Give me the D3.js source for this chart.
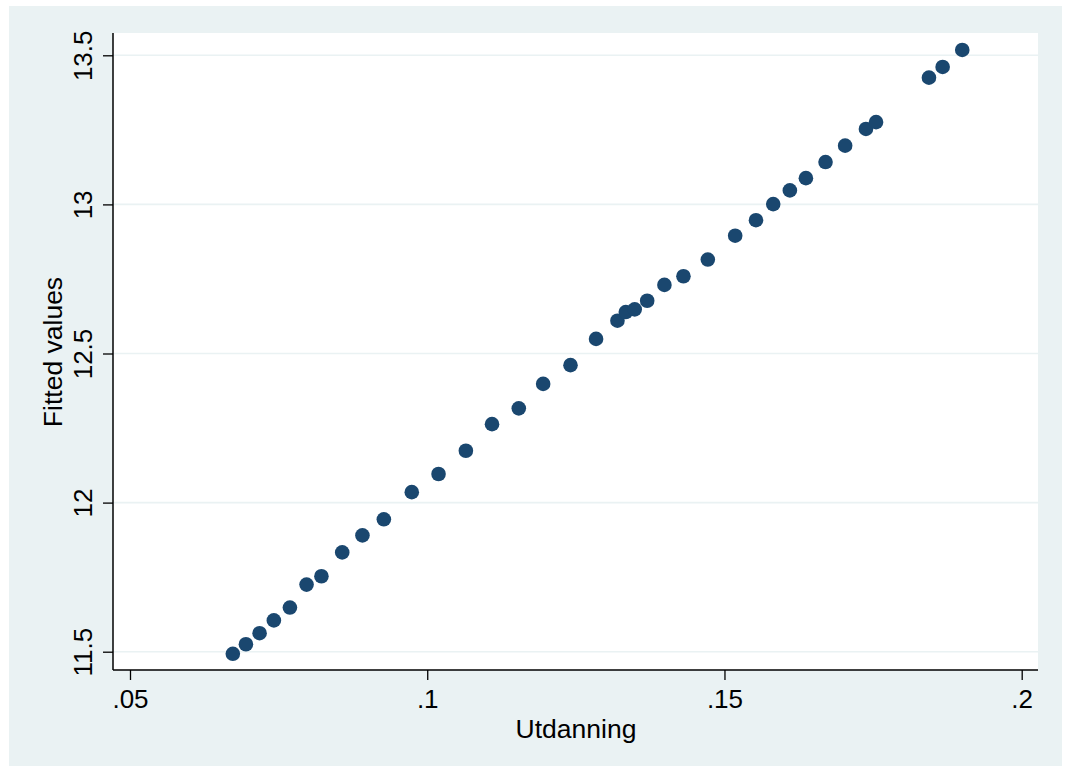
<!DOCTYPE html>
<html>
<head>
<meta charset="utf-8">
<script src="https://cdn.jsdelivr.net/npm/d3@7"></script>
<style>
  html, body { margin: 0; padding: 0; background: #ffffff; }
  svg { display: block; }
  text { font-family: "Liberation Sans", Arial, Helvetica, sans-serif; fill: #000; }
</style>
</head>
<body>
<script>
// Education share (x) against fitted values (y)
const utdanning = [
  0.0673, 0.0695, 0.0718, 0.0742, 0.0769, 0.0797, 0.0822, 0.0857, 0.0891, 0.0927,
  0.0974, 0.1019, 0.1065, 0.1109, 0.1154, 0.1195, 0.1241, 0.1284, 0.1320, 0.1334,
  0.1349, 0.1370, 0.1399, 0.1431, 0.1472, 0.1518, 0.1553, 0.1582, 0.1610, 0.1637,
  0.1670, 0.1703, 0.1738, 0.1755, 0.1844, 0.1867, 0.1900
];
const fitted = [
  11.493, 11.525, 11.562, 11.605, 11.648, 11.725, 11.753, 11.833, 11.890, 11.944,
  12.035, 12.096, 12.174, 12.263, 12.316, 12.398, 12.461, 12.549, 12.610, 12.639,
  12.648, 12.677, 12.730, 12.759, 12.815, 12.895, 12.947, 13.001, 13.047, 13.088,
  13.142, 13.197, 13.253, 13.276, 13.425, 13.461, 13.518
];
const xTicks = [0.05, 0.1, 0.15, 0.2];
const xTickLabels = [".05", ".1", ".15", ".2"];
const yTicks = [11.5, 12, 12.5, 13, 13.5];
const yTickLabels = ["11.5", "12", "12.5", "13", "13.5"];
const xTitle = "Utdanning";
const yTitle = "Fitted values";

const W = 1066, H = 769;
const plot = { left: 113, top: 33, right: 1038, bottom: 670 };

const svg = d3.select("body").append("svg").attr("width", W).attr("height", H);

// outer graph region
svg.append("rect")
  .attr("x", 9).attr("y", 6).attr("width", 1053).attr("height", 760)
  .attr("fill", "#eaf2f3");

// inner plot region
svg.append("rect")
  .attr("x", plot.left).attr("y", plot.top)
  .attr("width", plot.right - plot.left).attr("height", plot.bottom - plot.top)
  .attr("fill", "#ffffff");

const x = d3.scaleLinear().domain([0.05, 0.2]).range([130, 1021.7]);
const y = d3.scaleLinear().domain([11.5, 13.5]).range([651.7, 55.3]);

// horizontal grid lines
svg.append("g").selectAll("line").data(yTicks).join("line")
  .attr("x1", plot.left).attr("x2", plot.right)
  .attr("y1", d => y(d)).attr("y2", d => y(d))
  .attr("stroke", "#eaf2f3").attr("stroke-width", 1.6);

// x axis
const xAxis = d3.axisBottom(x).tickValues(xTicks)
  .tickFormat((d, i) => xTickLabels[i]).tickSize(10).tickSizeOuter(0);
const gx = svg.append("g").attr("transform", `translate(0,${plot.bottom})`).call(xAxis);
gx.select(".domain").remove();
gx.selectAll(".tick line").attr("stroke", "#000").attr("stroke-width", 1.3);
gx.selectAll(".tick text")
  .attr("y", 0).attr("dy", 0)
  .attr("transform", "translate(0,38)")
  .style("font-size", "26px")
  .style("font-family", "'Liberation Sans', Arial, sans-serif")
  .attr("fill", "#000");

// y axis
const yAxis = d3.axisLeft(y).tickValues(yTicks)
  .tickFormat((d, i) => yTickLabels[i]).tickSize(10).tickSizeOuter(0);
const gy = svg.append("g").attr("transform", `translate(${plot.left},0)`).call(yAxis);
gy.select(".domain").remove();
gy.selectAll(".tick line").attr("stroke", "#000").attr("stroke-width", 1.3);
gy.selectAll(".tick text")
  .attr("x", 0).attr("dy", 0)
  .attr("text-anchor", "middle")
  .attr("transform", "translate(-21,0) rotate(-90)")
  .style("font-size", "26px")
  .style("font-family", "'Liberation Sans', Arial, sans-serif")
  .attr("fill", "#000");

// axis lines
svg.append("line")
  .attr("x1", plot.left).attr("x2", plot.right)
  .attr("y1", plot.bottom).attr("y2", plot.bottom)
  .attr("stroke", "#000").attr("stroke-width", 1.5);
svg.append("line")
  .attr("x1", plot.left).attr("x2", plot.left)
  .attr("y1", plot.top).attr("y2", plot.bottom)
  .attr("stroke", "#000").attr("stroke-width", 1.5);

// axis titles
svg.append("text")
  .attr("x", 576).attr("y", 738)
  .attr("text-anchor", "middle")
  .style("font-size", "26.5px")
  .text(xTitle);
svg.append("text")
  .attr("transform", `translate(62,352) rotate(-90)`)
  .attr("text-anchor", "middle")
  .style("font-size", "26.5px")
  .text(yTitle);

// points
svg.append("g").selectAll("circle").data(utdanning.map((d, i) => [d, fitted[i]])).join("circle")
  .attr("cx", d => x(d[0])).attr("cy", d => y(d[1]))
  .attr("r", 7.3)
  .attr("fill", "#1a476f");
</script>
</body>
</html>
